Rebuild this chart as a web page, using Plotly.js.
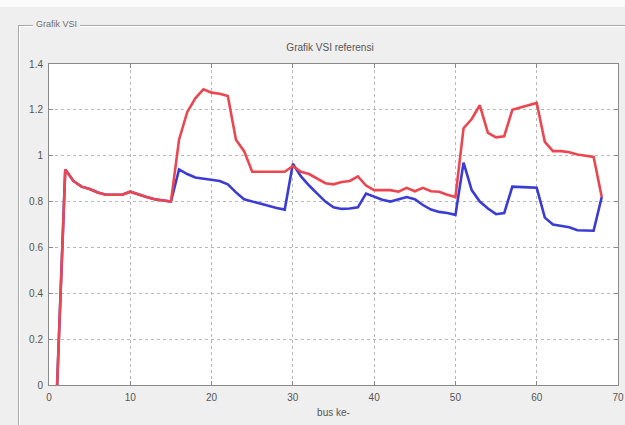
<!DOCTYPE html>
<html>
<head>
<meta charset="utf-8">
<script src="https://cdn.plot.ly/plotly-3.0.1.min.js"></script>
<style>
  html, body { margin: 0; padding: 0; width: 625px; height: 425px; overflow: hidden; background: #efefef; font-family: "Liberation Sans", Arial, sans-serif; }
  #topstrip { position: absolute; left: 0; top: 0; width: 625px; height: 7px; background: #fbfbfb; }
  #panel { position: absolute; left: 18px; top: 25px; width: 640px; height: 420px; border-left: 1px solid #a8a8a8; border-top: 1px solid #a8a8a8; box-shadow: inset 1px 1px 0 #ffffff; }
  #panelLabel { position: absolute; left: 33px; top: 18px; padding: 0 3px; background: #efefef; color: #707070; font-size: 9px; line-height: 12px; }
  #chart { position: absolute; left: 0; top: 0; width: 625px; height: 425px; }
</style>
</head>
<body>
<div id="topstrip"></div>
<div id="panel"></div>
<div id="panelLabel">Grafik VSI</div>
<div id="chart"></div>
<script>
// bus numbers
const busNumbers = [1,2,3,4,5,6,7,8,9,10,11,12,13,14,15,16,17,18,19,20,21,22,23,24,25,26,27,28,29,30,31,32,33,34,35,36,37,38,39,40,41,42,43,44,45,46,47,48,49,50,51,52,53,54,55,56,57,58,59,60,61,62,63,64,65,66,67,68];
// red series
const vsiRed = [0,0.94,0.89,0.865,0.855,0.84,0.83,0.83,0.83,0.843,0.83,0.82,0.81,0.805,0.80,
  1.07,1.19,1.25,1.29,1.275,1.27,1.26,1.07,1.02,0.93,0.93,0.93,0.93,0.93,0.955,
  0.93,0.92,0.90,0.88,0.875,0.885,0.89,0.91,0.87,0.85,0.85,0.85,0.843,0.86,0.845,
  0.86,0.845,0.843,0.83,0.82,1.12,1.16,1.22,1.10,1.08,1.085,1.20,1.21,1.22,1.23,
  1.06,1.02,1.02,1.015,1.005,1.0,0.995,0.82];
// blue series
const vsiBlue = [0,0.94,0.89,0.865,0.855,0.84,0.83,0.83,0.83,0.843,0.83,0.82,0.81,0.805,0.80,
  0.94,0.92,0.905,0.90,0.898,0.89,0.875,0.84,0.81,0.80,0.79,0.78,0.772,0.765,0.965,
  0.91,0.87,0.835,0.80,0.775,0.768,0.77,0.775,0.835,0.82,0.808,0.80,0.81,0.82,0.81,
  0.785,0.765,0.755,0.75,0.742,0.97,0.85,0.80,0.77,0.745,0.75,0.865,0.865,0.862,0.86,
  0.73,0.70,0.695,0.688,0.675,0.673,0.673,0.82];

const titleText = "Grafik VSI referensi";
const xTitleText = "bus ke-";

const traces = [
  { x: busNumbers, y: vsiBlue, type: 'scatter', mode: 'lines', line: { color: '#3b3bd6', width: 2.6 }, hoverinfo: 'skip' },
  { x: busNumbers, y: vsiRed, type: 'scatter', mode: 'lines', line: { color: '#ec4650', width: 2.6 }, hoverinfo: 'skip' }
];

const axisCommon = {
  showline: true, mirror: 'ticks', linecolor: '#8a8a8a', linewidth: 1,
  ticks: 'inside', ticklen: 4, tickcolor: '#8a8a8a',
  showgrid: true, gridcolor: '#b8b8b8', griddash: 'dot', gridwidth: 1,
  zeroline: false, tickfont: { size: 10, color: '#555' }, ticklabelstandoff: 3
};

const layout = {
  width: 625, height: 425,
  margin: { l: 49, r: 7, t: 64, b: 40 },
  paper_bgcolor: 'rgba(0,0,0,0)',
  plot_bgcolor: '#ffffff',
  showlegend: false,
  font: { family: '"Liberation Sans", Arial, sans-serif', color: '#555' },
  title: { text: titleText, x: 0.528, xanchor: 'center', y: 1 - 47/425, yanchor: 'middle', font: { size: 10, color: '#555' } },
  xaxis: Object.assign({}, axisCommon, { range: [0, 70], dtick: 10, tick0: 0,
    title: { text: xTitleText, font: { size: 10, color: '#555' }, standoff: 6 } }),
  yaxis: Object.assign({}, axisCommon, { range: [0, 1.4], dtick: 0.2, tick0: 0 })
};

Plotly.newPlot('chart', traces, layout, { staticPlot: true, displayModeBar: false });
</script>
</body>
</html>
